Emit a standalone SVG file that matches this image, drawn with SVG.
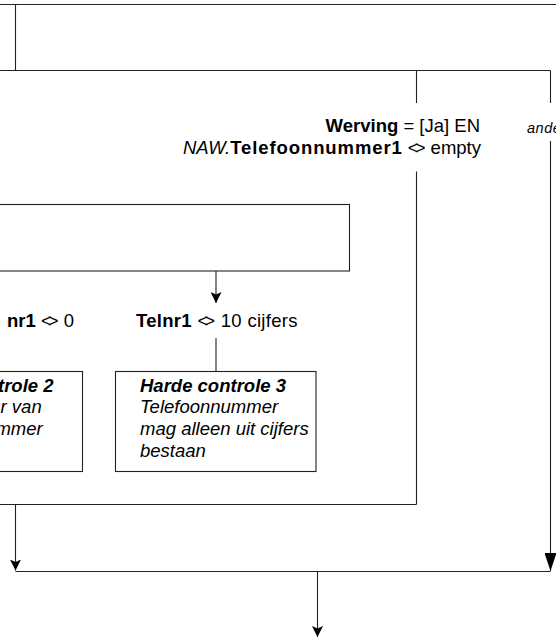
<svg xmlns="http://www.w3.org/2000/svg" width="556" height="638" viewBox="0 0 556 638">
<style>
  .ln { stroke: #222; stroke-width: 1.1; fill: none; }
  .box { stroke: #222; stroke-width: 1.1; fill: #fff; }
  text { font-family: "Liberation Sans", Arial, sans-serif; font-size: 18.5px; fill: #000; }
  .b { font-weight: bold; }
  .i { font-style: italic; }
  .bi { font-weight: bold; font-style: italic; }
  .sm { font-size: 14.5px; font-style: italic; letter-spacing: 0.5px; }
  .ne { letter-spacing: -4px; }
</style>
<defs>
  <marker id="arr" markerUnits="userSpaceOnUse" markerWidth="11" markerHeight="11" viewBox="0 0 11 11" refX="11" refY="5.5" orient="auto">
    <path d="M0,0 L11,5.5 L0,11 L2.5,5.5 z" fill="#000"/>
  </marker>
  <marker id="arrBig" markerUnits="userSpaceOnUse" markerWidth="18" markerHeight="12" viewBox="0 0 18 12" refX="18" refY="6" orient="auto">
    <path d="M0,0 L18,6 L0,12 z" fill="#000"/>
  </marker>
</defs>

<g id="connectors">
  <line class="ln" x1="0" y1="4.5" x2="556" y2="4.5"/>
  <line class="ln" x1="15.5" y1="4.5" x2="15.5" y2="70.5"/>
  <line class="ln" x1="0" y1="70.5" x2="550.5" y2="70.5"/>
  <line class="ln" x1="416.5" y1="70.5" x2="416.5" y2="103"/>
  <line class="ln" x1="550.5" y1="70.5" x2="550.5" y2="103"/>
  <line class="ln" x1="416.5" y1="171.5" x2="416.5" y2="504.5"/>
  <line class="ln" x1="0" y1="504.5" x2="416.5" y2="504.5"/>
  <line class="ln" x1="550.5" y1="141" x2="550.5" y2="571" marker-end="url(#arrBig)"/>
  <line class="ln" x1="216" y1="271" x2="216" y2="303" marker-end="url(#arr)"/>
  <line class="ln" x1="216" y1="338" x2="216" y2="371.5"/>
  <line class="ln" x1="15.5" y1="504.5" x2="15.5" y2="570.5" marker-end="url(#arr)"/>
  <line class="ln" x1="15.5" y1="571.5" x2="550.5" y2="571.5"/>
  <line class="ln" x1="317.5" y1="571.5" x2="317.5" y2="637" marker-end="url(#arr)"/>
</g>

<g id="label-werving">
  <text x="480" y="132" text-anchor="end"><tspan class="b">Werving</tspan> = [Ja] EN</text>
  <text x="481" y="154" text-anchor="end"><tspan class="i">NAW.</tspan><tspan class="b" letter-spacing="0.9">Telefoonnummer1</tspan> <tspan class="ne">&lt;</tspan>&gt; empty</text>
</g>

<g id="label-anders">
  <text class="sm" x="527" y="133">anders</text>
</g>

<g id="inner-box">
  <rect class="box" x="-10" y="204.5" width="359.5" height="66.5"/>
</g>

<g id="label-telnr1-0">
  <text x="74" y="327" text-anchor="end"><tspan class="b">nr1</tspan> <tspan class="ne">&lt;</tspan>&gt; 0</text>
</g>

<g id="label-telnr1-10">
  <text x="136" y="327" letter-spacing="0.3"><tspan class="b">Telnr1</tspan> <tspan class="ne">&lt;</tspan>&gt; 10 cijfers</text>
</g>

<g id="harde-controle-2">
  <rect class="box" x="-10" y="371.5" width="92.5" height="100"/>
  <text class="bi" x="53.5" y="391.7" text-anchor="end">trole 2</text>
  <text class="i" x="41.7" y="413.4" text-anchor="end">r van</text>
  <text class="i" x="42.7" y="435.1" text-anchor="end">mmer</text>
</g>

<g id="harde-controle-3">
  <rect class="box" x="115.5" y="371.5" width="200.5" height="100"/>
  <text class="bi" x="140" y="391.7">Harde controle 3</text>
  <text class="i" x="140" y="413.4">Telefoonnummer</text>
  <text class="i" x="140" y="435.1">mag alleen uit cijfers</text>
  <text class="i" x="140" y="456.8">bestaan</text>
</g>
</svg>
